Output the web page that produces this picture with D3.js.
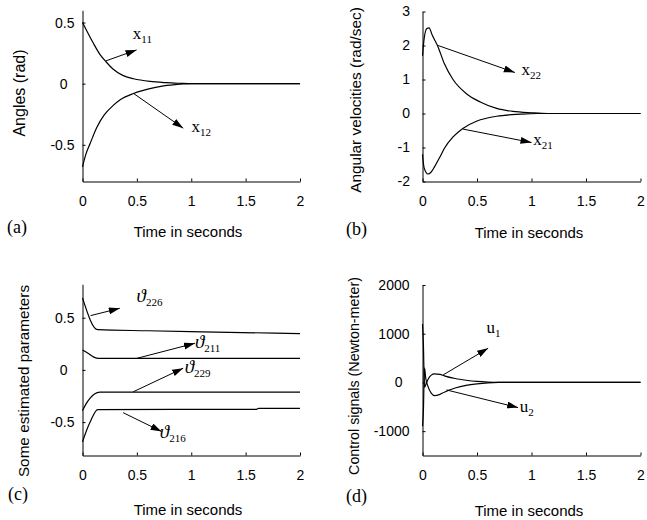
<!DOCTYPE html>
<html>
<head>
<meta charset="utf-8">
<script src="https://cdn.jsdelivr.net/npm/d3@7"></script>
<style>
body { margin: 0; background: #fff; }
svg { display: block; }
.tick text { font-family: "Liberation Sans", Arial, sans-serif; font-size: 14px; fill: #000; }
.axis path, .axis line { stroke: #000; }
</style>
</head>
<body>
<svg width="647" height="520"></svg>
<script>
// tick values
const timeTicks = [0, 0.5, 1, 1.5, 2];
const anglesTicks = [-0.5, 0, 0.5];
const velocityTicks = [-2, -1, 0, 1, 2, 3];
const paramTicks = [-0.5, 0, 0.5];
const controlTicks = [-1000, 0, 1000, 2000];

// (a) angles, [time, rad]
const x11 = [[0, 0.5], [0.04, 0.43], [0.1, 0.33], [0.16, 0.24], [0.22, 0.175], [0.28, 0.12],
    [0.37, 0.068], [0.47, 0.04], [0.62, 0.018], [0.77, 0.008], [0.9, 0.003], [1, 0], [2, 0]];
const x12 = [[0, -0.68], [0.03, -0.58], [0.07, -0.49], [0.13, -0.36], [0.2, -0.255], [0.28, -0.18],
    [0.35, -0.13], [0.47, -0.08], [0.6, -0.045], [0.72, -0.022], [0.85, -0.008], [1, 0], [2, 0]];

// (b) angular velocities, [time, rad/sec]
const x22 = [[0, 1.7], [0.015, 2.2], [0.04, 2.5], [0.06, 2.52], [0.09, 2.3], [0.14, 1.98], [0.2, 1.47],
    [0.28, 1.0], [0.4, 0.59], [0.53, 0.34], [0.68, 0.15], [0.83, 0.06], [1.0, 0.02], [1.15, 0], [2, 0]];
const x21 = [[0, -1.2], [0.015, -1.6], [0.05, -1.78], [0.08, -1.72], [0.11, -1.57], [0.16, -1.28],
    [0.2, -1.03], [0.28, -0.69], [0.37, -0.44], [0.5, -0.22], [0.68, -0.08], [0.9, -0.02], [1.05, 0], [2, 0]];

// (c) estimated parameters
const p226 = [[0, 0.69], [0.14, 0.385], [0.6, 0.375], [1.1, 0.365], [1.77, 0.352], [2, 0.348]];
const p211 = [[0, 0.19], [0.05, 0.16], [0.1, 0.125], [0.15, 0.11], [2, 0.11]];
const p229 = [[0, -0.39], [0.03, -0.33], [0.07, -0.27], [0.11, -0.23], [0.16, -0.212], [2, -0.212]];
const p216 = [[0, -0.69], [0.03, -0.6], [0.07, -0.5], [0.14, -0.38], [1.6, -0.378], [1.62, -0.368], [2, -0.368]];

// (d) control signals, [time, N·m]
const u1 = [[0, 1200], [0.008, 800], [0.018, -100], [0.03, -50], [0.05, 60], [0.08, 150], [0.11, 175],
    [0.16, 165], [0.2, 135], [0.3, 80], [0.4, 45], [0.5, 20], [0.6, 6], [0.7, 0], [2, 0]];
const u2 = [[0, -900], [0.008, -600], [0.018, 300], [0.03, 80], [0.05, -80], [0.08, -220], [0.11, -270],
    [0.16, -245], [0.2, -200], [0.3, -115], [0.4, -60], [0.5, -28], [0.6, -8], [0.7, 0], [2, 0]];

// annotations: arrow from -> to, label at (data coords)
const notesA = [
    { name: "x", sub: "11", from: [0.214, 0.186], to: [0.497, 0.276], at: [0.463, 0.366] },
    { name: "x", sub: "12", from: [0.466, -0.078], to: [0.926, -0.364], at: [1.003, -0.394] }
];
const notesB = [
    { name: "x", sub: "22", from: [0.143, 2.0], to: [0.847, 1.206], at: [0.908, 1.14] },
    { name: "x", sub: "21", from: [0.372, -0.459], to: [1.0, -0.853], at: [1.015, -0.94] }
];
const notesC = [
    { name: "\u03d1", sub: "226", from: [0.074, 0.52], to: [0.343, 0.59], at: [0.497, 0.654] },
    { name: "\u03d1", sub: "211", from: [0.497, 0.11], to: [1.034, 0.255], at: [1.034, 0.208] },
    { name: "\u03d1", sub: "229", from: [0.466, -0.21], to: [0.926, 0.016], at: [0.94, -0.032] },
    { name: "\u03d1", sub: "216", from: [0.374, -0.41], to: [0.727, -0.59], at: [0.711, -0.648] }
];
const notesD = [
    { name: "u", sub: "1", from: [0.189, 154], to: [0.602, 701], at: [0.587, 1021] },
    { name: "u", sub: "2", from: [0.22, -154], to: [0.877, -517], at: [0.893, -599] }
];

const panels = [
    { tag: "(a)", tagPos: [7, 233], xRange: [82.5, 300], yDomain: [-0.8, 0.6], yRange: [181.5, 10.3],
      yTicks: anglesTicks, yPad: 8, zeroShift: -7, yLabel: "Angles (rad)", yLabelPos: [20, 93], yLabelSize: 16,
      xLabelPos: [188, 237], series: [x11, x12], notes: notesA },
    { tag: "(b)", tagPos: [346, 235], xRange: [422.5, 640.5], yDomain: [-2, 3], yRange: [181.5, 11.5],
      yTicks: velocityTicks, yPad: 12.5, zeroShift: 0, yLabel: "Angular velocities (rad/sec)", yLabelPos: [356, 100], yLabelSize: 15.4,
      xLabelPos: [529, 238], series: [x22, x21], notes: notesB },
    { tag: "(c)", tagPos: [8, 500], xRange: [82.5, 300], yDomain: [-0.82, 0.82], yRange: [455.5, 284.3],
      yTicks: paramTicks, yPad: 8, zeroShift: -7, yLabel: "Some estimated parameters", yLabelPos: [24, 381], yLabelSize: 15.3,
      xLabelPos: [188, 515], series: [p226, p211, p229, p216], notes: notesC },
    { tag: "(d)", tagPos: [346, 502], xRange: [422.5, 640.5], yDomain: [-1500, 2000], yRange: [455.5, 285],
      yTicks: controlTicks, yPad: 13, zeroShift: -7, yLabel: "Control signals (Newton-meter)", yLabelPos: [354, 376], yLabelSize: 14.3,
      xLabelPos: [529, 516], series: [u1, u2], notes: notesD }
];

const svg = d3.select("svg");

svg.append("defs").append("marker")
    .attr("id", "head")
    .attr("markerUnits", "userSpaceOnUse")
    .attr("markerWidth", 12)
    .attr("markerHeight", 8)
    .attr("refX", 11)
    .attr("refY", 3.5)
    .attr("orient", "auto")
    .append("path")
    .attr("d", "M0,0 L11,3.5 L0,7 Z")
    .attr("fill", "#000");

function drawPanel(p) {
    const g = svg.append("g");

    const scX = d3.scaleLinear().domain([0, 2]).range(p.xRange);
    const scY = d3.scaleLinear().domain(p.yDomain).range(p.yRange);

    const axisX = d3.axisBottom(scX)
        .tickValues(timeTicks)
        .tickSize(-3)
        .tickSizeOuter(0)
        .tickPadding(15)
        .tickFormat(d => String(d));

    const axisY = d3.axisLeft(scY)
        .tickValues(p.yTicks)
        .tickSize(-3)
        .tickSizeOuter(0)
        .tickPadding(p.yPad)
        .tickFormat(d => String(d));

    g.append("g")
        .attr("class", "axis")
        .attr("transform", `translate(0, ${p.yRange[0]})`)
        .call(axisX);

    g.append("g")
        .attr("class", "axis")
        .attr("transform", `translate(${p.xRange[0]}, 0)`)
        .call(axisY)
        .selectAll(".tick text")
        .attr("dx", d => d === 0 ? p.zeroShift : 0);

    g.selectAll(".axis .domain").attr("stroke-width", 1);

    const line = d3.line()
        .x(d => scX(d[0]))
        .y(d => scY(d[1]))
        .curve(d3.curveMonotoneX);

    g.selectAll("path.curve")
        .data(p.series)
        .enter()
        .append("path")
        .attr("class", "curve")
        .attr("fill", "none")
        .attr("stroke", "#000")
        .attr("stroke-width", 1.2)
        .attr("d", line);

    g.selectAll("line.arrow")
        .data(p.notes)
        .enter()
        .append("line")
        .attr("class", "arrow")
        .attr("x1", d => scX(d.from[0]))
        .attr("y1", d => scY(d.from[1]))
        .attr("x2", d => scX(d.to[0]))
        .attr("y2", d => scY(d.to[1]))
        .attr("stroke", "#000")
        .attr("stroke-width", 1)
        .attr("marker-end", "url(#head)");

    const labels = g.selectAll("text.note")
        .data(p.notes)
        .enter()
        .append("text")
        .attr("class", "note")
        .attr("x", d => scX(d.at[0]))
        .attr("y", d => scY(d.at[1]))
        .style("font-family", '"Liberation Serif", "Times New Roman", "DejaVu Serif", serif')
        .style("fill", "#000");

    labels.append("tspan")
        .style("font-size", d => d.name === "\u03d1" ? "19px" : "17px")
        .style("font-style", d => d.name === "\u03d1" ? "italic" : "normal")
        .text(d => d.name);

    labels.append("tspan")
        .attr("dy", 4)
        .style("font-size", "11px")
        .text(d => d.sub);

    g.append("text")
        .attr("x", p.xLabelPos[0])
        .attr("y", p.xLabelPos[1])
        .attr("text-anchor", "middle")
        .style("font-family", '"Liberation Sans", Arial, sans-serif')
        .style("font-size", "15px")
        .text("Time in seconds");

    g.append("text")
        .attr("transform", `translate(${p.yLabelPos[0]}, ${p.yLabelPos[1]}) rotate(-90)`)
        .attr("text-anchor", "middle")
        .attr("dy", "0.32em")
        .style("font-family", '"Liberation Sans", Arial, sans-serif')
        .style("font-size", p.yLabelSize + "px")
        .text(p.yLabel);

    g.append("text")
        .attr("x", p.tagPos[0])
        .attr("y", p.tagPos[1])
        .style("font-family", '"Liberation Serif", "Times New Roman", serif')
        .style("font-size", "18px")
        .text(p.tag);
}

panels.forEach(drawPanel);
</script>
</body>
</html>
